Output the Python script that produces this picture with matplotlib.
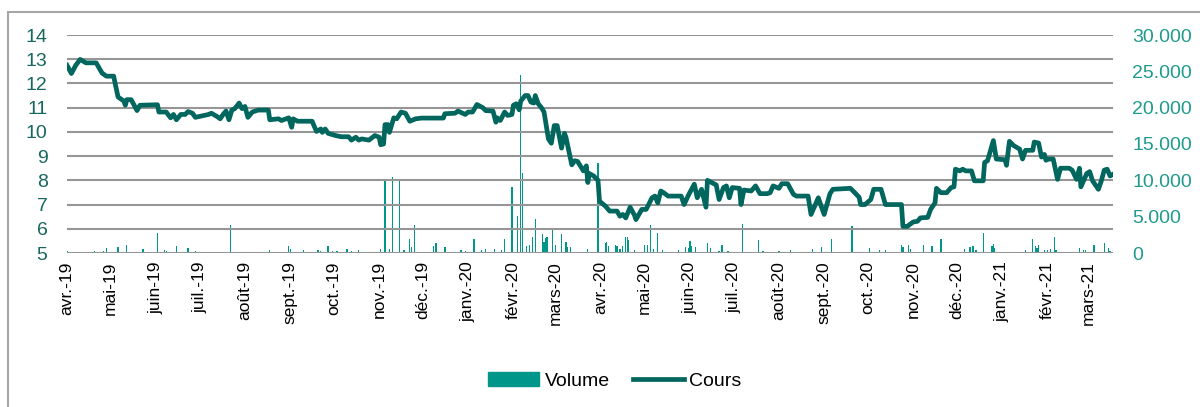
import pandas as pd
import matplotlib
matplotlib.use("Agg")
import matplotlib.pyplot as plt
from matplotlib.patches import Rectangle, Patch
from matplotlib.lines import Line2D
from matplotlib.ticker import FuncFormatter

plt.rcParams['font.family'] = ['Liberation Sans', 'DejaVu Sans']

# cours (left axis) - vertices
cours_dates = [
    '2019-04-01', '2019-04-04', '2019-04-07', '2019-04-10', '2019-04-14', '2019-04-21', '2019-04-25',
    '2019-04-28', '2019-05-03', '2019-05-04', '2019-05-06', '2019-05-10', '2019-05-11', '2019-05-12',
    '2019-05-15', '2019-05-19', '2019-05-21', '2019-06-02', '2019-06-03', '2019-06-08', '2019-06-11',
    '2019-06-13', '2019-06-15', '2019-06-18', '2019-06-21', '2019-06-23', '2019-06-26', '2019-06-28',
    '2019-07-07', '2019-07-09', '2019-07-13', '2019-07-15', '2019-07-17', '2019-07-19', '2019-07-21',
    '2019-07-23', '2019-07-25', '2019-07-28', '2019-07-30', '2019-08-01', '2019-08-03', '2019-08-06',
    '2019-08-10', '2019-08-17', '2019-08-18', '2019-08-24', '2019-08-26', '2019-08-31', '2019-09-02',
    '2019-09-03', '2019-09-06', '2019-09-16', '2019-09-19', '2019-09-22', '2019-09-23', '2019-09-25',
    '2019-09-27', '2019-10-02', '2019-10-06', '2019-10-11', '2019-10-13', '2019-10-16', '2019-10-18',
    '2019-10-20', '2019-10-25', '2019-10-29', '2019-11-01', '2019-11-02', '2019-11-04', '2019-11-05',
    '2019-11-07', '2019-11-08', '2019-11-11', '2019-11-13', '2019-11-16', '2019-11-19', '2019-11-22',
    '2019-11-26', '2019-11-30', '2019-12-15', '2019-12-16', '2019-12-23', '2019-12-25', '2019-12-30',
    '2020-01-01', '2020-01-04', '2020-01-07', '2020-01-11', '2020-01-13', '2020-01-18', '2020-01-20',
    '2020-01-21', '2020-01-23', '2020-01-26', '2020-01-28', '2020-01-31', '2020-02-01', '2020-02-03',
    '2020-02-05', '2020-02-06', '2020-02-09', '2020-02-11', '2020-02-13', '2020-02-15', '2020-02-16',
    '2020-02-18', '2020-02-20', '2020-02-22', '2020-02-25', '2020-02-27', '2020-02-29', '2020-03-02',
    '2020-03-05', '2020-03-07', '2020-03-08', '2020-03-12', '2020-03-14', '2020-03-16', '2020-03-20',
    '2020-03-22', '2020-03-23', '2020-03-24', '2020-03-27', '2020-03-30', '2020-03-31', '2020-04-04',
    '2020-04-07', '2020-04-12', '2020-04-14', '2020-04-16', '2020-04-18', '2020-04-21', '2020-04-24',
    '2020-04-25', '2020-04-29', '2020-05-02', '2020-05-06', '2020-05-08', '2020-05-10', '2020-05-12',
    '2020-05-14', '2020-05-17', '2020-05-26', '2020-05-28', '2020-05-31', '2020-06-04', '2020-06-06',
    '2020-06-09', '2020-06-12', '2020-06-13', '2020-06-19', '2020-06-21', '2020-06-24', '2020-06-26',
    '2020-06-28', '2020-06-30', '2020-07-05', '2020-07-06', '2020-07-08', '2020-07-13', '2020-07-16',
    '2020-07-19', '2020-07-24', '2020-07-26', '2020-07-28', '2020-08-01', '2020-08-03', '2020-08-07',
    '2020-08-11', '2020-08-13', '2020-08-21', '2020-08-23', '2020-08-25', '2020-08-28', '2020-09-01',
    '2020-09-05', '2020-09-07', '2020-09-19', '2020-09-22', '2020-09-25', '2020-09-26', '2020-09-29',
    '2020-10-03', '2020-10-05', '2020-10-10', '2020-10-13', '2020-10-24', '2020-10-25', '2020-10-28',
    '2020-11-01', '2020-11-04', '2020-11-06', '2020-11-11', '2020-11-13', '2020-11-16', '2020-11-17',
    '2020-11-20', '2020-11-24', '2020-11-27', '2020-11-29', '2020-11-30', '2020-12-03', '2020-12-05',
    '2020-12-07', '2020-12-11', '2020-12-13', '2020-12-19', '2020-12-20', '2020-12-22', '2020-12-26',
    '2020-12-28', '2021-01-03', '2021-01-04', '2021-01-06', '2021-01-09', '2021-01-13', '2021-01-15',
    '2021-01-17', '2021-01-22', '2021-01-23', '2021-01-26', '2021-01-28', '2021-01-30', '2021-01-31',
    '2021-02-02', '2021-02-05', '2021-02-08', '2021-02-10', '2021-02-16', '2021-02-18', '2021-02-21',
    '2021-02-23', '2021-02-24', '2021-02-28', '2021-03-02', '2021-03-04', '2021-03-08', '2021-03-10',
    '2021-03-12', '2021-03-14', '2021-03-16', '2021-03-18',
]
cours_values = [
    12.75, 12.41, 12.75, 12.99, 12.85, 12.85, 12.43,
    12.30, 12.30, 12.00, 11.44, 11.27, 11.10, 11.33,
    11.33, 10.88, 11.10, 11.12, 10.82, 10.82, 10.58,
    10.72, 10.50, 10.72, 10.72, 10.84, 10.77, 10.60,
    10.72, 10.77, 10.63, 10.54, 10.72, 10.86, 10.50,
    10.90, 10.96, 11.19, 10.96, 11.05, 10.60, 10.82,
    10.90, 10.90, 10.50, 10.54, 10.47, 10.58, 10.19,
    10.54, 10.44, 10.44, 10.02, 10.12, 9.98, 10.12,
    9.94, 9.85, 9.80, 9.80, 9.66, 9.78, 9.66,
    9.71, 9.66, 9.85, 9.78, 9.47, 9.50, 10.30,
    10.30, 9.98, 10.58, 10.54, 10.82, 10.77, 10.44,
    10.54, 10.57, 10.57, 10.75, 10.77, 10.86, 10.72,
    10.82, 10.82, 11.13, 11.00, 10.88, 10.86, 10.40,
    10.58, 10.47, 10.82, 10.68, 10.72, 11.10, 11.16,
    10.91, 11.27, 11.50, 11.50, 11.23, 11.19, 11.50,
    11.16, 11.02, 10.82, 9.71, 9.53, 10.26, 10.26,
    9.33, 9.94, 9.78, 8.64, 8.81, 8.78, 8.39,
    8.60, 7.91, 8.28, 8.18, 8.00, 7.14, 6.94,
    6.73, 6.73, 6.52, 6.59, 6.45, 6.89, 6.56,
    6.38, 6.80, 6.80, 7.28, 7.35, 7.07, 7.56,
    7.49, 7.35, 7.35, 7.00, 7.39, 7.84, 7.28,
    7.63, 6.89, 8.00, 7.81, 7.21, 7.70, 7.77,
    7.28, 7.70, 7.67, 7.00, 7.60, 7.56, 7.77,
    7.45, 7.45, 7.49, 7.77, 7.67, 7.86, 7.86,
    7.42, 7.35, 7.35, 6.59, 6.87, 7.28, 6.59,
    7.45, 7.63, 7.67, 7.49, 7.30, 7.00, 7.00,
    7.21, 7.63, 7.63, 7.00, 7.00, 6.10, 6.10,
    6.28, 6.31, 6.45, 6.47, 6.80, 7.07, 7.67,
    7.49, 7.49, 7.70, 7.73, 8.46, 8.39, 8.46,
    8.39, 8.39, 7.98, 7.98, 8.74, 8.81, 9.64,
    8.88, 8.85, 8.62, 9.61, 9.43, 9.29, 8.88,
    9.24, 9.24, 9.58, 9.54, 8.96, 9.07, 8.83,
    8.88, 8.88, 8.04, 8.50, 8.50, 8.42, 8.04,
    8.50, 7.73, 8.28, 8.36, 7.98, 7.63, 7.98,
    8.42, 8.46, 8.18, 8.25,
]

# volume (right axis)
volume_dates = [
    '2019-04-01', '2019-04-20', '2019-04-26', '2019-04-28', '2019-05-06', '2019-05-12', '2019-05-23',
    '2019-06-02', '2019-06-07', '2019-06-08', '2019-06-15', '2019-06-23', '2019-06-28', '2019-07-22',
    '2019-08-18', '2019-08-31', '2019-09-01', '2019-09-10', '2019-09-20', '2019-09-22', '2019-09-27',
    '2019-09-30', '2019-10-03', '2019-10-10', '2019-10-13', '2019-10-18', '2019-10-25', '2019-10-31',
    '2019-11-02', '2019-11-05', '2019-11-08', '2019-11-10', '2019-11-15', '2019-11-18', '2019-11-22',
    '2019-11-23', '2019-11-25', '2019-12-08', '2019-12-10', '2019-12-16', '2019-12-27', '2019-12-30',
    '2020-01-05', '2020-01-10', '2020-01-13', '2020-01-19', '2020-01-24', '2020-01-26', '2020-01-31',
    '2020-02-04', '2020-02-06', '2020-02-07', '2020-02-10', '2020-02-12', '2020-02-14', '2020-02-16',
    '2020-02-21', '2020-02-22', '2020-02-23', '2020-02-24', '2020-02-28', '2020-03-01', '2020-03-05',
    '2020-03-08', '2020-03-09', '2020-03-11', '2020-03-23', '2020-03-30', '2020-04-04', '2020-04-05',
    '2020-04-06', '2020-04-11', '2020-04-12', '2020-04-14', '2020-04-16', '2020-04-18', '2020-04-19',
    '2020-04-20', '2020-04-24', '2020-05-01', '2020-05-03', '2020-05-05', '2020-05-07', '2020-05-10',
    '2020-05-13', '2020-05-24', '2020-05-29', '2020-05-31', '2020-06-01', '2020-06-02', '2020-06-05',
    '2020-06-13', '2020-06-15', '2020-06-21', '2020-06-23', '2020-06-27', '2020-07-07', '2020-07-18',
    '2020-07-21', '2020-08-01', '2020-08-09', '2020-08-24', '2020-08-30', '2020-09-06', '2020-09-20',
    '2020-10-02', '2020-10-09', '2020-10-13', '2020-10-24', '2020-10-25', '2020-10-29', '2020-10-30',
    '2020-11-08', '2020-11-14', '2020-11-20', '2020-12-06', '2020-12-10', '2020-12-12', '2020-12-14',
    '2020-12-19', '2020-12-25', '2020-12-26', '2020-12-27', '2021-01-17', '2021-01-22', '2021-01-24',
    '2021-01-25', '2021-01-26', '2021-01-30', '2021-02-01', '2021-02-03', '2021-02-06', '2021-02-07',
    '2021-02-23', '2021-02-26', '2021-02-27', '2021-03-05', '2021-03-12', '2021-03-15', '2021-03-16',
]
volume_values = [
    320, 320, 320, 690, 780, 1150, 500,
    2800, 410, 230, 920, 690, 320, 3800,
    460, 920, 550, 370, 410, 320, 920,
    320, 320, 550, 320, 460, 180, 180,
    550, 10000, 600, 10450, 10200, 410, 1930,
    780, 3900, 1010, 1380, 780, 410, 320,
    1970, 460, 600, 600, 460, 1970, 9100,
    5140, 24500, 11000, 920, 1150, 2250, 4700,
    2620, 1510, 2070, 2160, 3120, 1150, 2620,
    1510, 780, 780, 600, 12400, 1380, 1510,
    920, 1150, 920, 600, 920, 2250, 2160,
    1840, 460, 1150, 1060, 3900, 600, 2750,
    460, 460, 780, 690, 1610, 920, 780,
    1380, 690, 320, 1060, 320, 4040, 1840,
    230, 230, 370, 550, 780, 1970, 3670,
    690, 460, 460, 1150, 780, 1060, 600,
    1150, 920, 1970, 600, 780, 920, 460,
    2750, 920, 1240, 690, 460, 1930, 920,
    690, 1150, 460, 410, 600, 2160, 460,
    690, 460, 410, 1150, 1380, 690, 230,
]

month_labels = ['avr.-19', 'mai-19', 'juin-19', 'juil.-19', 'août-19', 'sept.-19', 'oct.-19',
                'nov.-19', 'déc.-19', 'janv.-20', 'févr.-20', 'mars-20', 'avr.-20', 'mai-20',
                'juin-20', 'juil.-20', 'août-20', 'sept.-20', 'oct.-20', 'nov.-20', 'déc.-20',
                'janv.-21', 'févr.-21', 'mars-21']

line_color = '#00665e'
bar_color = '#00968a'
grid_color = '#969696'

fig = plt.figure(figsize=(12, 4.07), dpi=100)
ax = fig.add_axes([67 / 1200, 1 - 253 / 407, (1113 - 67) / 1200, (253 - 35) / 407])
ax2 = ax.twinx()

# bars behind the line
ax2.bar(pd.to_datetime(volume_dates), volume_values, width=0.9, color=bar_color, zorder=1)
ax.plot(pd.to_datetime(cours_dates), cours_values, color=line_color, lw=3.4,
        solid_joinstyle='round', zorder=3)
ax.set_zorder(ax2.get_zorder() + 1)
ax.patch.set_visible(False)

ax.set_ylim(5, 14)
ax.set_yticks(range(5, 15))
ax2.set_ylim(0, 30000)
ax2.set_yticks(range(0, 30001, 5000))
ax2.yaxis.set_major_formatter(FuncFormatter(lambda v, p: f"{v:,.0f}".replace(',', '.')))

ax.set_xlim(pd.Timestamp('2019-04-01'), pd.Timestamp('2021-03-18'))
month_starts = pd.date_range('2019-04-01', periods=len(month_labels), freq='MS')
ax.set_xticks(month_starts)
ax.set_xticklabels(month_labels, rotation=90, fontsize=12.5, color='black')

ax.grid(axis='y', color=grid_color, lw=1.5)
ax.grid(axis='x', visible=False)
for a in (ax, ax2):
    for s in a.spines.values():
        s.set_visible(False)

ax.tick_params(axis='y', length=0, pad=14, labelsize=14, labelcolor='#17675f')
ax.tick_params(axis='x', length=0, pad=6)
ax2.tick_params(axis='y', length=0, pad=14, labelsize=14, labelcolor='#1f9b8b')

# legend
handles = [Patch(color=bar_color), Line2D([0], [0], color=line_color, lw=3.4)]
fig.legend(handles, ['Volume', 'Cours'], loc='center', ncol=2, frameon=False,
           bbox_to_anchor=(615 / 1200, 1 - 381 / 407), fontsize=14,
           handlelength=2.6, handletextpad=0.3, columnspacing=1.2)

# outer frame
fig.patches.append(Rectangle((8 / 1200, -0.1), 1.2, 1.1 - 12 / 407, transform=fig.transFigure,
                             fill=False, edgecolor='#a6a6a6', lw=1.5))

fig.savefig('out.png', dpi=100)
